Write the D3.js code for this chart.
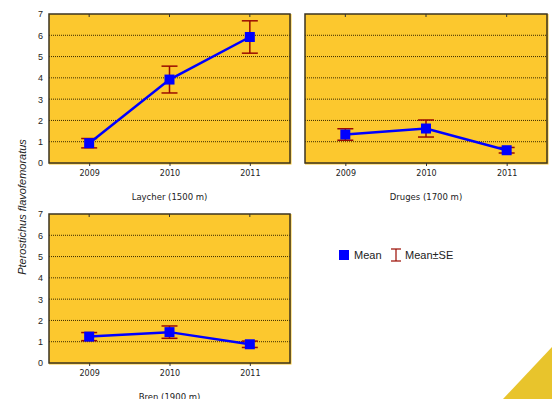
<!DOCTYPE html>
<html>
<head>
<meta charset="utf-8">
<script src="https://cdn.jsdelivr.net/npm/d3@7"></script>
<style>
  body { margin: 0; background: #fff; }
  svg { display: block; }
  .tick text { font-family: "DejaVu Sans", Verdana, sans-serif; font-size: 8px; fill: #222; }
  .ytick .tick text { font-family: "Liberation Sans", Arial, sans-serif; font-size: 9px; }
  .site-label { font-family: "DejaVu Sans", Verdana, sans-serif; font-size: 8.5px; fill: #222; }
</style>
</head>
<body>
<svg width="552" height="399"></svg>
<script>
var years = [2009, 2010, 2011];
var sites = ["Laycher (1500 m)", "Druges (1700 m)", "Bren (1900 m)"];
var laycherMean = [0.93, 3.92, 5.92];
var laycherSE   = [0.22, 0.63, 0.76];
var drugesMean  = [1.34, 1.62, 0.6];
var drugesSE    = [0.27, 0.4, 0.13];
var brenMean    = [1.24, 1.45, 0.88];
var brenSE      = [0.19, 0.29, 0.15];
var yTicks = [0, 1, 2, 3, 4, 5, 6, 7];

var means = [laycherMean, drugesMean, brenMean];
var ses = [laycherSE, drugesSE, brenSE];

// panel boxes
var panels = [
  {x0: 49, x1: 290, y0: 14, y1: 163, yLabels: true},
  {x0: 305, x1: 547, y0: 14, y1: 163, yLabels: false},
  {x0: 49, x1: 290, y0: 214, y1: 363, yLabels: true}
];

var svg = d3.select("svg");

// decorative corner triangle
svg.append("polygon")
  .attr("points", "503,399 552,347 552,399")
  .attr("fill", "#e8c42c");

panels.forEach(function(p, k) {
  var x = d3.scaleLinear().domain([2008.5, 2011.5]).range([p.x0, p.x1]);
  var y = d3.scaleLinear().domain([0, 7]).range([p.y1, p.y0]);
  var g = svg.append("g");

  g.append("rect")
    .attr("x", p.x0).attr("y", p.y0)
    .attr("width", p.x1 - p.x0 + 1.5).attr("height", p.y1 - p.y0 + 1.5)
    .attr("fill", "#fcc82e");

  // grid
  g.selectAll("line.grid")
    .data(yTicks.slice(1, 7))
    .enter().append("line")
    .attr("x1", p.x0).attr("x2", p.x1)
    .attr("y1", function(d) { return y(d); })
    .attr("y2", function(d) { return y(d); })
    .attr("stroke", "#3a2a00")
    .attr("stroke-width", 1)
    .attr("stroke-dasharray", "1,1");

  g.append("rect")
    .attr("x", p.x0).attr("y", p.y0)
    .attr("width", p.x1 - p.x0).attr("height", p.y1 - p.y0)
    .attr("fill", "none")
    .attr("stroke", "#3b3320")
    .attr("stroke-width", 1.5);

  // bottom axis
  var xa = g.append("g")
    .attr("transform", "translate(0," + p.y1 + ")")
    .call(d3.axisBottom(x).tickValues(years).tickFormat(d3.format("d")).tickSize(3).tickPadding(4));
  xa.select(".domain").remove();
  xa.selectAll(".tick line").attr("stroke", "#333");

  // top ticks pointing inward
  g.selectAll("line.ttick")
    .data(years)
    .enter().append("line")
    .attr("x1", function(d) { return x(d); })
    .attr("x2", function(d) { return x(d); })
    .attr("y1", p.y0).attr("y2", p.y0 + 3)
    .attr("stroke", "#333");

  if (p.yLabels) {
    var ya = g.append("g")
      .attr("class", "ytick")
      .attr("transform", "translate(" + p.x0 + ",0)")
      .call(d3.axisLeft(y).tickValues(yTicks).tickFormat(d3.format("d")).tickSize(0).tickPadding(6));
    ya.select(".domain").remove();
  }

  g.append("text")
    .attr("class", "site-label")
    .attr("x", (p.x0 + p.x1) / 2)
    .attr("y", p.y1 + 37)
    .attr("text-anchor", "middle")
    .text(sites[k]);

  var m = means[k], s = ses[k];
  var pts = years.map(function(yr, i) { return {yr: yr, m: m[i], se: s[i]}; });

  // error bars
  var eb = g.selectAll("g.eb").data(pts).enter().append("g");
  eb.append("line")
    .attr("x1", function(d) { return x(d.yr); })
    .attr("x2", function(d) { return x(d.yr); })
    .attr("y1", function(d) { return y(d.m + d.se); })
    .attr("y2", function(d) { return y(d.m - d.se); })
    .attr("stroke", "#9a0b00").attr("stroke-width", 1.5);
  [1, -1].forEach(function(sg) {
    eb.append("line")
      .attr("x1", function(d) { return x(d.yr) - 8; })
      .attr("x2", function(d) { return x(d.yr) + 8; })
      .attr("y1", function(d) { return y(d.m + sg * d.se); })
      .attr("y2", function(d) { return y(d.m + sg * d.se); })
      .attr("stroke", "#9a0b00").attr("stroke-width", 1.5);
  });

  var line = d3.line()
    .x(function(d) { return x(d.yr); })
    .y(function(d) { return y(d.m); });
  g.append("path")
    .datum(pts)
    .attr("d", line)
    .attr("fill", "none")
    .attr("stroke", "#0000ff")
    .attr("stroke-width", 2.5);

  g.selectAll("rect.mk").data(pts).enter().append("rect")
    .attr("x", function(d) { return x(d.yr) - 5; })
    .attr("y", function(d) { return y(d.m) - 5; })
    .attr("width", 10).attr("height", 10)
    .attr("fill", "#0000ff");
});

// y axis title
svg.append("text")
  .attr("transform", "translate(26,207) rotate(-90)")
  .attr("text-anchor", "middle")
  .attr("font-family", "Liberation Sans, Arial, sans-serif")
  .attr("font-style", "italic")
  .attr("font-size", "11px")
  .attr("fill", "#222")
  .text("Pterostichus flavofemoratus");

// legend
var lg = svg.append("g").attr("transform", "translate(339,255)");
lg.append("rect").attr("x", 0).attr("y", -5).attr("width", 10).attr("height", 10).attr("fill", "#0000ff");
lg.append("text").attr("x", 15).attr("y", 4)
  .attr("font-family", "Liberation Sans, Arial, sans-serif").attr("font-size", "11px").attr("fill", "#222")
  .text("Mean");
var ei = lg.append("g").attr("transform", "translate(57,0)");
ei.append("line").attr("x1", 0).attr("x2", 0).attr("y1", -6).attr("y2", 6).attr("stroke", "#9a0b00").attr("stroke-width", 1.2);
ei.append("line").attr("x1", -5).attr("x2", 5).attr("y1", -6).attr("y2", -6).attr("stroke", "#9a0b00").attr("stroke-width", 1.2);
ei.append("line").attr("x1", -5).attr("x2", 5).attr("y1", 6).attr("y2", 6).attr("stroke", "#9a0b00").attr("stroke-width", 1.2);
lg.append("text").attr("x", 66).attr("y", 4)
  .attr("font-family", "Liberation Sans, Arial, sans-serif").attr("font-size", "11px").attr("fill", "#222")
  .text("Mean±SE");
</script>
</body>
</html>
